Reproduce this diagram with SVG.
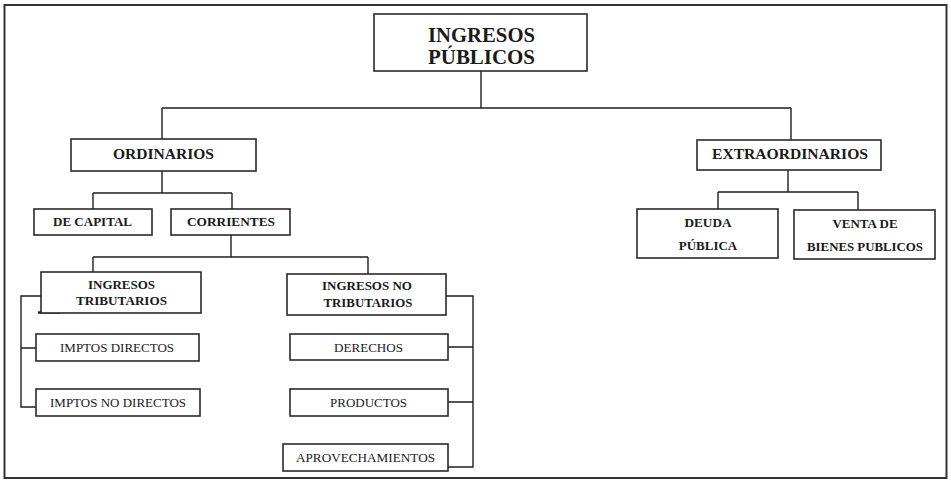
<svg xmlns="http://www.w3.org/2000/svg" width="951" height="481" viewBox="0 0 951 481">
<style>
.box{fill:#fff;stroke:#2a2a2a;stroke-width:1.6}
.c{fill:none;stroke:#1e1e1e;stroke-width:1.4}
.t{font-family:"Liberation Serif","Times New Roman",serif;fill:#1a1a1a;text-anchor:middle}
.b{font-weight:bold;font-size:13px}
.r{font-size:12.5px}
.h{font-weight:bold;font-size:15px}
</style>
<rect width="951" height="481" fill="#fff"/>
<rect id="frame" x="4.5" y="5" width="942" height="473" fill="none" stroke="#333" stroke-width="2"/>
<g id="connectors">
<path class="c" d="M481 71V108M162 108H791M162 108V139M791 108V140"/>
<path class="c" d="M162 171V193M93 193H232M93 193V209M232 193V209"/>
<path class="c" d="M231 235V257M93 257H368M93 257V272M368 257V274"/>
<path class="c" d="M788 170V192M718 192H858M718 192V209M858 192V210"/>
<path class="c" d="M41 296H21V407H36M21 348H36"/>
<path class="c" d="M446 296H473V467H448M448 347H473M448 402H473"/>
<path d="M38 312.5H60" stroke="#1e1e1e" stroke-width="2.4"/>
</g>
<g id="n-ingresos-publicos">
<rect class="box" x="374" y="14" width="213" height="57"/>
<text class="t" x="481.5" y="41.5" font-size="21" font-weight="bold" textLength="107" lengthAdjust="spacingAndGlyphs">INGRESOS</text>
<text class="t" x="481.5" y="64" font-size="21" font-weight="bold" textLength="107" lengthAdjust="spacingAndGlyphs">PÚBLICOS</text>
</g>
<g id="n-ordinarios">
<rect class="box" x="71" y="139" width="185" height="32"/>
<text class="t h" x="163.5" y="159" textLength="101" lengthAdjust="spacingAndGlyphs">ORDINARIOS</text>
</g>
<g id="n-extraordinarios">
<rect class="box" x="697" y="140" width="184" height="30"/>
<text class="t h" x="790" y="159" textLength="156" lengthAdjust="spacingAndGlyphs">EXTRAORDINARIOS</text>
</g>
<g id="n-de-capital">
<rect class="box" x="34" y="209" width="118" height="26"/>
<text class="t b" x="92.5" y="226" textLength="79" lengthAdjust="spacingAndGlyphs">DE CAPITAL</text>
</g>
<g id="n-corrientes">
<rect class="box" x="171" y="209" width="119" height="26"/>
<text class="t b" x="231" y="226" textLength="88" lengthAdjust="spacingAndGlyphs">CORRIENTES</text>
</g>
<g id="n-deuda-publica">
<rect class="box" x="637" y="209" width="141" height="49"/>
<text class="t b" x="708" y="227" textLength="47" lengthAdjust="spacingAndGlyphs">DEUDA</text>
<text class="t b" x="708" y="250">PÚBLICA</text>
</g>
<g id="n-venta-bienes">
<rect class="box" x="794" y="210" width="141" height="49"/>
<text class="t b" x="865" y="228">VENTA DE</text>
<text class="t b" x="865" y="251" textLength="116" lengthAdjust="spacingAndGlyphs">BIENES PUBLICOS</text>
</g>
<g id="n-ingresos-tributarios">
<rect class="box" x="41" y="272" width="160" height="41"/>
<text class="t b" x="121.5" y="289" textLength="67" lengthAdjust="spacingAndGlyphs">INGRESOS</text>
<text class="t b" x="121.5" y="305" textLength="91" lengthAdjust="spacingAndGlyphs">TRIBUTARIOS</text>
</g>
<g id="n-ingresos-no-tributarios">
<rect class="box" x="287" y="274" width="159" height="41"/>
<text class="t b" x="367" y="290" textLength="90" lengthAdjust="spacingAndGlyphs">INGRESOS NO</text>
<text class="t b" x="368" y="307" textLength="89" lengthAdjust="spacingAndGlyphs">TRIBUTARIOS</text>
</g>
<g id="n-imptos-directos">
<rect class="box" x="36" y="334" width="163" height="27"/>
<text class="t r" x="117" y="352" textLength="114" lengthAdjust="spacingAndGlyphs">IMPTOS DIRECTOS</text>
</g>
<g id="n-imptos-no-directos">
<rect class="box" x="36" y="389" width="164" height="27"/>
<text class="t r" x="118" y="407" textLength="136" lengthAdjust="spacingAndGlyphs">IMPTOS NO DIRECTOS</text>
</g>
<g id="n-derechos">
<rect class="box" x="290" y="334" width="158" height="26"/>
<text class="t r" x="368.5" y="352" textLength="69" lengthAdjust="spacingAndGlyphs">DERECHOS</text>
</g>
<g id="n-productos">
<rect class="box" x="290" y="389" width="158" height="27"/>
<text class="t r" x="368.5" y="407" textLength="77" lengthAdjust="spacingAndGlyphs">PRODUCTOS</text>
</g>
<g id="n-aprovechamientos">
<rect class="box" x="283" y="444" width="165" height="27"/>
<text class="t r" x="365.5" y="462" textLength="139" lengthAdjust="spacingAndGlyphs">APROVECHAMIENTOS</text>
</g>
</svg>
